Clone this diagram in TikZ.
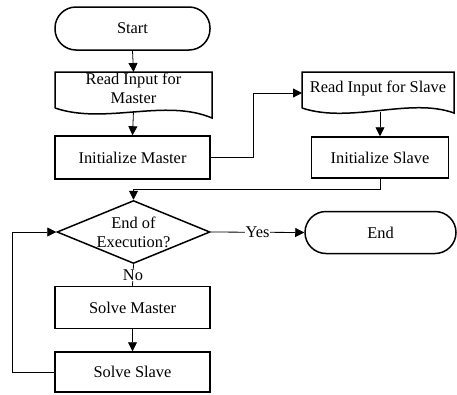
\documentclass[tikz,border=0pt]{standalone}
\usepackage{fontspec}
\setmainfont{Liberation Serif}
\usetikzlibrary{arrows.meta,shapes.geometric}
\begin{document}
\begin{tikzpicture}[x=1pt,y=-1pt,
  font=\fontsize{16.4}{19}\selectfont,
  box/.style={draw,line width=1.5pt,minimum width=155pt,minimum height=43pt,inner sep=0pt,align=center},
  term/.style={box,rounded corners=21pt},
  txt/.style={inner sep=0pt,align=center},
  conn/.style={line width=0.8pt},
  arr/.style={conn,-{Triangle[length=9pt,width=9pt]}},
  lab/.style={fill=white,inner sep=1pt}]
\useasboundingbox (0,0) rectangle (457,394);
% nodes
\node[term] (start) at (132.5,28.5) {Start};
% document shape for master
\draw[line width=1.5pt] (55,108) -- (55,72) -- (212,72) -- (212,118)
  .. controls (165,98) and (105,125) .. (55,108);
\node[txt] (readm) at (133.5,88) {Read Input for\\Master};
\coordinate (readmT) at (133.5,72);
\coordinate (readmB) at (133.5,111);
\node[box] (initm) at (132.5,157.5) {Initialize Master};
% document shape for slave
\draw[line width=1.5pt] (302,108) -- (302,72) -- (454,72) -- (454,113)
  .. controls (410,97) and (350,124) .. (302,108);
\node[txt] (reads) at (378,88) {Read Input for Slave};
\coordinate (readsL) at (302,93);
\coordinate (readsB) at (380,112);
\node[box,minimum width=137pt,minimum height=41pt] (inits) at (380,157.5) {Initialize Slave};
\node[draw,diamond,line width=1.5pt,minimum width=153pt,minimum height=63pt,inner sep=0pt] (dec) at (133.5,232) {};
\node[txt] (dectxt) at (133.5,232) {End of\\Execution?};
\node[term,minimum width=151pt,minimum height=42pt] (end) at (380.5,232.5) {End};
\node[box,minimum height=42pt] (solvem) at (132.5,307.5) {Solve Master};
\node[box,minimum height=40pt] (solves) at (132.5,372) {Solve Slave};
% connectors
\draw[arr] (start.south) -- (readmT);
\draw[arr] (readmB) -- (initm.north);
\draw[arr] (initm.east) -- (253,157.5) |- (readsL);
\draw[arr] (readsB) -- (inits.north);
\draw[arr] (inits.south) |- (133.5,189) -- (dec.north);
\draw[arr] (dec.east) -- node[lab,pos=0.5] {Yes} (end.west);
\draw[conn] (dec.south) -- node[lab,pos=0.5] {No} (solvem.north);
\draw[arr] (solvem.south) -- (solves.north);
\draw[arr] (solves.west) -- (12,372) |- (dec.west);
\end{tikzpicture}
\end{document}
